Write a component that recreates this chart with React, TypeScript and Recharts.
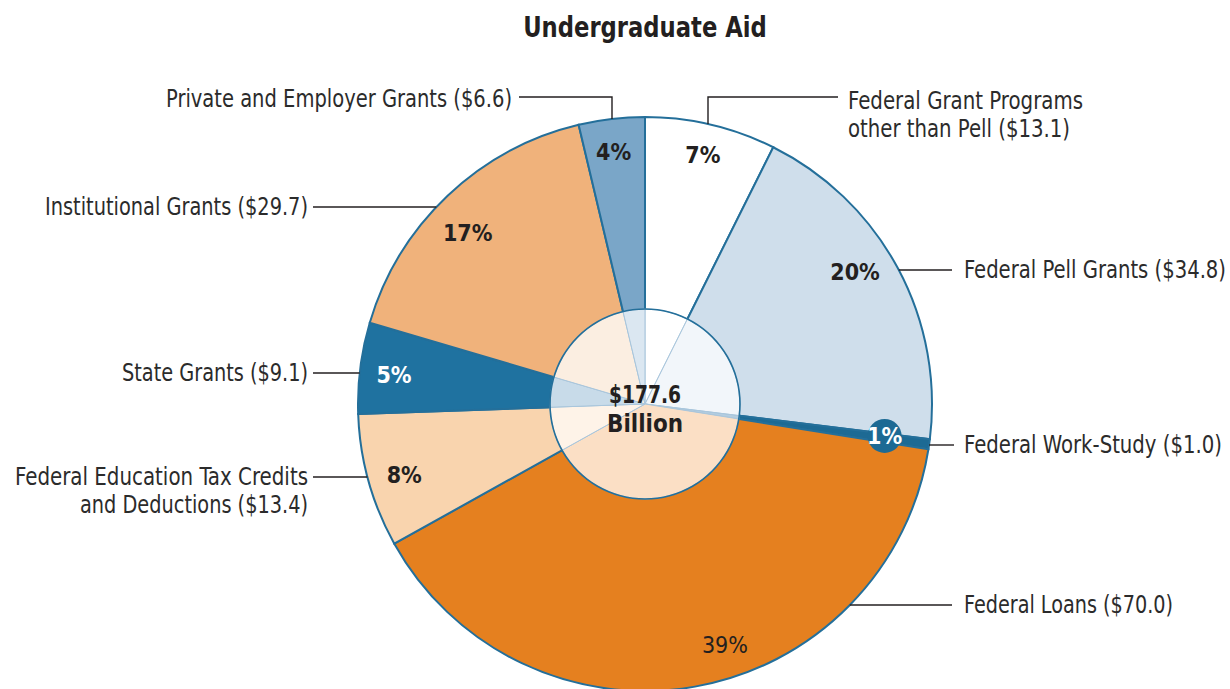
import React from 'react';
import { PieChart, Pie, Cell } from 'recharts';

// ---- data ----
const categories = [
  'Federal Grant Programs other than Pell',
  'Federal Pell Grants',
  'Federal Work-Study',
  'Federal Loans',
  'Federal Education Tax Credits and Deductions',
  'State Grants',
  'Institutional Grants',
  'Private and Employer Grants',
];
const amounts = [13.1, 34.8, 1.0, 70.0, 13.4, 9.1, 29.7, 6.6];
const calloutTexts = [
  ['Federal Grant Programs', 'other than Pell ($13.1)'],
  ['Federal Pell Grants ($34.8)'],
  ['Federal Work-Study ($1.0)'],
  ['Federal Loans ($70.0)'],
  ['Federal Education Tax Credits', 'and Deductions ($13.4)'],
  ['State Grants ($9.1)'],
  ['Institutional Grants ($29.7)'],
  ['Private and Employer Grants ($6.6)'],
];
const titleText = 'Undergraduate Aid';
const totalText = ['$177.6', 'Billion'];

// ---- styles ----
const outerColors = ['#ffffff', '#cfdeeb', '#1d6a94', '#e5801f', '#f9d4ae', '#1f72a0', '#f0b27b', '#7aa6c8'];
const innerColors = ['#ffffff', '#f2f6fa', '#b3cde0', '#fbdfc5', '#fef3e8', '#c8dbe9', '#fbeee1', '#dbe7f1'];
const pctColors = ['#231f20', '#231f20', '#ffffff', '#231f20', '#231f20', '#ffffff', '#231f20', '#231f20'];
const pctWeights = [700, 700, 700, 400, 700, 700, 700, 700];

// ---- layout (page pixel coordinates) ----
const CX = 645;
const CY = 404;
const R_OUT = 287;
const R_IN = 95;
const calloutLayout = [
  { kind: 'top', ax: 708, ly: 97, lx2: 838, tx: 848, anchor: 'start', ty: [101, 129], tw: [235, 222] },
  { kind: 'side', ly: 270, lx2: 952, tx: 964, anchor: 'start', ty: [270], tw: [262] },
  { kind: 'side', ly: 445, lx2: 954, tx: 964, anchor: 'start', ty: [445], tw: [258] },
  { kind: 'side', ly: 605, lx2: 952, tx: 964, anchor: 'start', ty: [605], tw: [209] },
  { kind: 'side', ly: 477, lx2: 313, tx: 308, anchor: 'end', ty: [477, 505], tw: [293, 228] },
  { kind: 'side', ly: 373, lx2: 313, tx: 308, anchor: 'end', ty: [373], tw: [186] },
  { kind: 'side', ly: 207, lx2: 313, tx: 308, anchor: 'end', ty: [207], tw: [263] },
  { kind: 'top', ax: 612, ly: 97, lx2: 519, tx: 512, anchor: 'end', ty: [99], tw: [346] },
];
const pctLayout = [
  { r: 252, dx: 0, dy: -4 },
  { r: 252, dx: -12, dy: -13 },
  { r: 242, dx: 0, dy: -2 },
  { r: 252, dx: 36, dy: -7 },
  { r: 252, dx: 2, dy: 3 },
  { r: 252, dx: -1, dy: 3 },
  { r: 252, dx: -4, dy: 12 },
  { r: 252, dx: -2, dy: -2 },
];

const FONT = "'DejaVu Sans Condensed', 'DejaVu Sans', sans-serif";
const TEXT_COLOR = '#2b2b2b';
const LINE_COLOR = '#231f20';
const EDGE_COLOR = '#246f9a';

const data = categories.map((name, i) => ({ name, value: amounts[i] }));
const ringData = [{ name: 'ring', value: 1 }];

const RAD = Math.PI / 180;

const renderOuterLabel = (props: any) => {
  const { cx, cy, midAngle, outerRadius, index, percent } = props;
  const pl = pctLayout[index];
  const px = cx + pl.r * Math.cos(-midAngle * RAD) + pl.dx;
  const py = cy + pl.r * Math.sin(-midAngle * RAD) + pl.dy;
  const pctText = `${Math.round(percent * 100)}%`;
  const c: any = calloutLayout[index];
  let points = '';
  if (c.kind === 'side') {
    const d = Math.sqrt(outerRadius * outerRadius - (c.ly - cy) * (c.ly - cy));
    const x1 = c.lx2 > cx ? cx + d : cx - d;
    points = `${x1},${c.ly} ${c.lx2},${c.ly}`;
  } else {
    const d = Math.sqrt(outerRadius * outerRadius - (c.ax - cx) * (c.ax - cx));
    const y1 = cy - d;
    points = `${c.ax},${y1} ${c.ax},${c.ly} ${c.lx2},${c.ly}`;
  }
  return (
    <g key={`lab-${index}`}>
      <polyline points={points} fill="none" stroke={LINE_COLOR} strokeWidth={1.4} />
      {calloutTexts[index].map((t, k) => (
        <text
          key={k}
          x={c.tx}
          y={c.ty[k]}
          textAnchor={c.anchor}
          dominantBaseline="central"
          fontFamily={FONT}
          fontSize={24}
          fill={TEXT_COLOR}
          textLength={c.tw[k]}
          lengthAdjust="spacingAndGlyphs"
        >
          {t}
        </text>
      ))}
      {index === 2 && <circle cx={px} cy={py} r={17} fill={outerColors[2]} />}
      <text
        x={px}
        y={py}
        textAnchor="middle"
        dominantBaseline="central"
        fontFamily={FONT}
        fontSize={23}
        fontWeight={pctWeights[index]}
        fill={pctColors[index]}
      >
        {pctText}
      </text>
    </g>
  );
};

const renderCenterLabel = (props: any) => {
  const { cx, cy } = props;
  return (
    <g>
      <text x={cx} y={cy - 10} textAnchor="middle" dominantBaseline="central" fontFamily={FONT} fontSize={25} fontWeight={700} fill="#231f20" textLength={72} lengthAdjust="spacingAndGlyphs">
        {totalText[0]}
      </text>
      <text x={cx} y={cy + 19} textAnchor="middle" dominantBaseline="central" fontFamily={FONT} fontSize={25} fontWeight={700} fill="#231f20" textLength={76} lengthAdjust="spacingAndGlyphs">
        {totalText[1]}
      </text>
    </g>
  );
};

export default function App() {
  return (
    <div style={{ position: 'relative', width: 1230, height: 689 }}>
      <style>{'body{margin:0;background:#fff}'}</style>
      <PieChart width={1230} height={689} margin={{ top: 0, right: 0, bottom: 0, left: 0 }} style={{ position: 'absolute', left: 0, top: 0 }}>
        <Pie
          data={data}
          dataKey="value"
          nameKey="name"
          cx={CX}
          cy={CY}
          outerRadius={R_OUT}
          innerRadius={0}
          startAngle={90}
          endAngle={-270}
          stroke={EDGE_COLOR}
          strokeWidth={2}
          isAnimationActive={false}
          label={renderOuterLabel}
          labelLine={false}
        >
          {data.map((d, i) => (
            <Cell key={d.name} fill={outerColors[i]} />
          ))}
        </Pie>
        <Pie
          data={data}
          dataKey="value"
          nameKey="name"
          cx={CX}
          cy={CY}
          outerRadius={R_IN}
          innerRadius={0}
          startAngle={90}
          endAngle={-270}
          stroke="#a9c6dc"
          strokeWidth={1}
          isAnimationActive={false}
        >
          {data.map((d, i) => (
            <Cell key={d.name} fill={innerColors[i]} />
          ))}
        </Pie>
        <Pie
          data={ringData}
          dataKey="value"
          cx={CX}
          cy={CY}
          outerRadius={R_IN + 0.8}
          innerRadius={R_IN - 0.8}
          startAngle={90}
          endAngle={-270}
          stroke="none"
          fill={EDGE_COLOR}
          isAnimationActive={false}
          label={renderCenterLabel}
          labelLine={false}
        />
      </PieChart>
      <div
        style={{
          position: 'absolute',
          left: 445,
          width: 400,
          top: 7,
          height: 40,
          lineHeight: '40px',
          textAlign: 'center',
          fontFamily: FONT,
          fontWeight: 700,
          fontSize: 29,
          color: '#231f20',
          transform: 'scaleX(0.87)',
        }}
      >
        {titleText}
      </div>
    </div>
  );
}
